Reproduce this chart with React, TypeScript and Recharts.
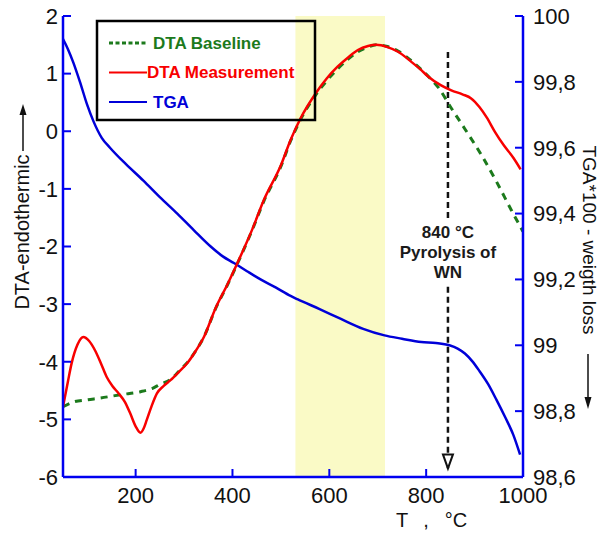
import React from 'react'
import {
  ComposedChart,
  Line,
  XAxis,
  YAxis,
  ReferenceArea,
  ReferenceLine,
  ReferenceDot,
  Legend,
} from 'recharts'

const FONT = '"Liberation Sans", Arial, Helvetica, sans-serif'
const AXIS_BLUE = '#0000f0'
const RED = '#f80000'
const GREEN = '#1c7a1c'
const BLUE = '#0000d8'
const BAND = '#fafac6'

// DTA measurement (left axis), T in °C
const dtaTemps = [
  50, 60, 68, 80, 92, 104, 116, 128, 140, 152, 165, 178, 189, 200, 210, 217, 223, 233, 244, 258,
  272, 290, 306, 325, 341, 365, 390, 410, 440, 465, 500, 520, 541, 572, 595, 617, 640, 659, 680,
  697, 720, 742, 770, 790, 804, 830, 852, 875, 893, 910, 925, 942, 960, 980, 995,
]
const dtaValues = [
  -4.78, -4.35, -4.02, -3.7, -3.57, -3.64, -3.8, -4.02, -4.26, -4.42, -4.55, -4.7, -4.9, -5.12,
  -5.23, -5.15, -5.01, -4.77, -4.55, -4.42, -4.32, -4.17, -4.03, -3.8, -3.57, -3.07, -2.65, -2.29,
  -1.72, -1.19, -0.59, -0.15, 0.23, 0.66, 0.92, 1.12, 1.29, 1.41, 1.48, 1.5, 1.46, 1.38, 1.2,
  1.06, 0.95, 0.8, 0.71, 0.64, 0.57, 0.42, 0.24, -0.01, -0.24, -0.46, -0.66,
]

// DTA baseline (left axis)
const baseTemps = [
  50, 71, 100, 127, 170, 210, 235, 251, 272, 290, 306, 325, 341, 365, 390, 410, 440, 465, 500, 520,
  541, 572, 595, 617, 640, 659, 680, 697, 720, 742, 770, 790, 808, 825, 852, 880, 914, 945, 976,
  1000,
]
const baseValues = [
  -4.78, -4.7, -4.66, -4.63, -4.57, -4.52, -4.46, -4.39, -4.31, -4.16, -4.02, -3.8, -3.57, -3.08,
  -2.66, -2.3, -1.73, -1.21, -0.61, -0.17, 0.21, 0.63, 0.88, 1.08, 1.26, 1.38, 1.46, 1.5, 1.47,
  1.39, 1.22, 1.07, 0.92, 0.76, 0.4, 0.04, -0.41, -0.87, -1.37, -1.74,
]

// TGA*100 (right axis)
const tgaTemps = [
  50, 60, 71, 85, 100, 113, 130, 147, 180, 216, 250, 286, 320, 355, 380, 403, 430, 458, 490, 520,
  534, 580, 624, 670, 714, 750, 790, 820, 848, 865, 880, 895, 910, 928, 945, 963, 980, 994,
]
const tgaValues = [
  99.93, 99.9, 99.86, 99.8, 99.73, 99.68, 99.63, 99.6, 99.55, 99.5, 99.45, 99.4, 99.35, 99.3,
  99.27, 99.25, 99.225, 99.2, 99.175, 99.15, 99.14, 99.11, 99.08, 99.05, 99.03, 99.02, 99.01,
  99.007, 99.0, 98.99, 98.975, 98.952, 98.922, 98.882, 98.835, 98.782, 98.728, 98.668,
]

const xTicks = [200, 400, 600, 800, 1000]
const topTicks = [200, 400, 600, 800]
const leftTicks = [-6, -5, -4, -3, -2, -1, 0, 1, 2]
const rightTicks = [98.6, 98.8, 99, 99.2, 99.4, 99.6, 99.8, 100]

// yellow band and the 840 °C pyrolysis marker
const bandFrom = 530
const bandTo = 715
const pyroT = 845
const arrowUpper = [1.375, -1.54]
const arrowLower = [-2.7, -5.85]
const arrowHeadY = -5.73
const noteY = -2.1
const noteLines = ['840 °C', 'Pyrolysis of', 'WN']

const legendItems = [
  { label: 'DTA Baseline', color: GREEN, dash: '4 2.5', width: 3, textX: 57 },
  { label: 'DTA Measurement', color: RED, dash: undefined, width: 2, textX: 51 },
  { label: 'TGA', color: BLUE, dash: undefined, width: 2, textX: 57 },
]

const dtaData = dtaTemps.map((t, i) => ({ t, v: dtaValues[i] }))
const baseData = baseTemps.map((t, i) => ({ t, v: baseValues[i] }))
const tgaData = tgaTemps.map((t, i) => ({ t, v: tgaValues[i] }))

const fmtRight = (v: number) => {
  const r = Math.round(v * 10) / 10
  return Number.isInteger(r) ? String(r) : r.toFixed(1).replace('.', ',')
}

const tickStyle = { fill: '#111', fontSize: 22, fontFamily: FONT }

function LegendBox() {
  return (
    <svg width={220} height={101} style={{ display: 'block', overflow: 'visible' }}>
      <rect x={1} y={1} width={218} height={99} fill="none" stroke="#000" strokeWidth={2.5} />
      {legendItems.map((it, i) => {
        const y = 23 + i * 29.5
        return (
          <g key={it.label}>
            <line x1={13} x2={51} y1={y} y2={y} stroke={it.color} strokeWidth={it.width} strokeDasharray={it.dash} />
            <text
              x={it.textX}
              y={y}
              dominantBaseline="central"
              fill={it.color}
              fontFamily={FONT}
              fontWeight="bold"
              fontSize={17}
            >
              {it.label}
            </text>
          </g>
        )
      })}
    </svg>
  )
}

function LeftTitle(props: any) {
  const vb = props.viewBox || { x: 13, y: 16, width: 50, height: 461 }
  const cx = vb.x + 9
  const top = vb.y
  return (
    <g>
      <text
        x={cx}
        y={top + 216}
        transform={`rotate(-90 ${cx} ${top + 216})`}
        textAnchor="middle"
        dominantBaseline="central"
        fontFamily={FONT}
        fontSize={20}
        fill="#111"
      >
        DTA-endothermic
      </text>
      <line x1={cx + 1} x2={cx + 1} y1={top + 135} y2={top + 96} stroke="#111" strokeWidth={1.5} />
      <path d={`M${cx + 1} ${top + 88} L${cx - 2.5} ${top + 99} L${cx + 4.5} ${top + 99} Z`} fill="#111" />
    </g>
  )
}

function RightTitle(props: any) {
  const vb = props.viewBox || { x: 523, y: 16, width: 60, height: 461 }
  const cx = vb.x + 66
  const top = vb.y
  return (
    <g>
      <text
        x={cx}
        y={top + 224}
        transform={`rotate(90 ${cx} ${top + 224})`}
        textAnchor="middle"
        dominantBaseline="central"
        fontFamily={FONT}
        fontSize={19}
        fill="#111"
      >
        TGA*100 - weigth loss
      </text>
      <line x1={cx - 1} x2={cx - 1} y1={top + 338} y2={top + 384} stroke="#111" strokeWidth={1.5} />
      <path d={`M${cx - 1} ${top + 393} L${cx - 4.5} ${top + 381} L${cx + 2.5} ${top + 381} Z`} fill="#111" />
    </g>
  )
}

function BottomTitle(props: any) {
  const vb = props.viewBox || { x: 63, y: 477, width: 460, height: 40 }
  const y = vb.y + 43
  const base = vb.x + 339
  return (
    <text y={y} dominantBaseline="central" fontFamily={FONT} fontSize={20} fill="#111">
      <tspan x={base} textAnchor="middle">T</tspan>
      <tspan x={base + 24} textAnchor="middle">,</tspan>
      <tspan x={base + 54} textAnchor="middle">°C</tspan>
    </text>
  )
}

function PyrolysisNote(props: any) {
  const { cx, cy } = props
  return (
    <g>
      {noteLines.map((s, i) => (
        <text
          key={s}
          x={cx}
          y={cy + (i - 1) * 20}
          textAnchor="middle"
          dominantBaseline="central"
          fontFamily={FONT}
          fontWeight="bold"
          fontSize={17}
          fill="#1a1a1a"
        >
          {s}
        </text>
      ))}
    </g>
  )
}

function ArrowHead(props: any) {
  const { cx, cy } = props
  return (
    <path
      d={`M${cx - 5} ${cy - 7} L${cx + 5} ${cy - 7} L${cx} ${cy + 7} Z`}
      fill="#fff"
      stroke="#111"
      strokeWidth={2}
    />
  )
}

export default function App() {
  return (
    <div style={{ position: 'absolute', left: 0, top: 0, background: '#fff' }}>
      <ComposedChart width={602} height={533} margin={{ top: 16, right: 19, bottom: 16, left: 13 }}>
        <XAxis
          xAxisId="x"
          type="number"
          dataKey="t"
          domain={[50, 1000]}
          ticks={xTicks}
          interval={0}
          allowDataOverflow
          height={40}
          axisLine={{ stroke: AXIS_BLUE, strokeWidth: 2.5 }}
          tickLine={{ stroke: AXIS_BLUE, strokeWidth: 2 }}
          tickSize={-8}
          tickMargin={18}
          tick={tickStyle}
          label={BottomTitle}
        />
        <XAxis
          xAxisId="top"
          orientation="top"
          type="number"
          dataKey="t"
          domain={[50, 1000]}
          ticks={topTicks}
          interval={0}
          allowDataOverflow
          height={0}
          axisLine={{ stroke: AXIS_BLUE, strokeWidth: 2.5 }}
          tickLine={{ stroke: AXIS_BLUE, strokeWidth: 2 }}
          tickSize={-8}
          tick={false}
        />
        <YAxis
          yAxisId="left"
          type="number"
          domain={[-6, 2]}
          ticks={leftTicks}
          interval={0}
          allowDataOverflow
          width={50}
          axisLine={{ stroke: AXIS_BLUE, strokeWidth: 2.5 }}
          tickLine={{ stroke: AXIS_BLUE, strokeWidth: 2 }}
          tickSize={-8}
          tickMargin={13}
          tick={tickStyle}
          label={LeftTitle}
        />
        <YAxis
          yAxisId="right"
          orientation="right"
          type="number"
          domain={[98.6, 100]}
          ticks={rightTicks}
          interval={0}
          allowDataOverflow
          width={60}
          axisLine={{ stroke: AXIS_BLUE, strokeWidth: 2.5 }}
          tickLine={{ stroke: AXIS_BLUE, strokeWidth: 2 }}
          tickSize={-8}
          tickMargin={18}
          tick={tickStyle}
          tickFormatter={fmtRight}
          label={RightTitle}
        />

        <ReferenceArea
          xAxisId="x"
          yAxisId="left"
          x1={bandFrom}
          x2={bandTo}
          y1={-6}
          y2={2}
          fill={BAND}
          fillOpacity={1}
          stroke="none"
        />

        <ReferenceLine
          xAxisId="x"
          yAxisId="left"
          segment={[{ x: pyroT, y: arrowUpper[0] }, { x: pyroT, y: arrowUpper[1] }]}
          stroke="#111"
          strokeWidth={2.5}
          strokeDasharray="6 4"
        />
        <ReferenceLine
          xAxisId="x"
          yAxisId="left"
          segment={[{ x: pyroT, y: arrowLower[0] }, { x: pyroT, y: arrowLower[1] }]}
          stroke="#111"
          strokeWidth={2.5}
          strokeDasharray="6 4"
        />
        <ReferenceDot xAxisId="x" yAxisId="left" x={pyroT} y={arrowHeadY} r={0} shape={ArrowHead} />
        <ReferenceDot xAxisId="x" yAxisId="left" x={pyroT} y={noteY} r={0} shape={PyrolysisNote} />

        <Line
          xAxisId="x"
          yAxisId="right"
          data={tgaData}
          dataKey="v"
          type="monotone"
          stroke={BLUE}
          strokeWidth={2.5}
          dot={false}
          isAnimationActive={false}
        />
        <Line
          xAxisId="x"
          yAxisId="left"
          data={baseData}
          dataKey="v"
          type="monotone"
          stroke={GREEN}
          strokeWidth={3}
          strokeDasharray="7 6"
          dot={false}
          isAnimationActive={false}
        />
        <Line
          xAxisId="x"
          yAxisId="left"
          data={dtaData}
          dataKey="v"
          type="monotone"
          stroke={RED}
          strokeWidth={2.5}
          dot={false}
          isAnimationActive={false}
        />

        <Legend
          layout="horizontal"
          verticalAlign="middle"
          align="center"
          wrapperStyle={{ left: 96, top: 20, width: 220, height: 101 }}
          content={() => <LegendBox />}
        />
      </ComposedChart>
    </div>
  )
}
